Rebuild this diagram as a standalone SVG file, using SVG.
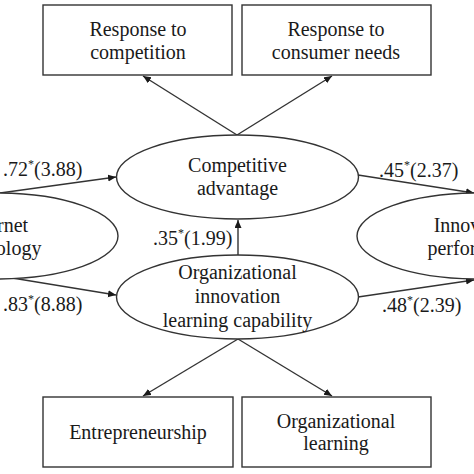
<svg xmlns="http://www.w3.org/2000/svg" width="474" height="474" viewBox="0 0 474 474">
<style>
.box{fill:#fff;stroke:#333;stroke-width:1.4}
.ell{fill:#fff;stroke:#333;stroke-width:1.4}
.t{font-family:"Liberation Serif","Times New Roman",serif;font-size:20px;fill:#1a1a1a;text-anchor:middle}
.l{font-family:"Liberation Serif","Times New Roman",serif;font-size:20px;fill:#1a1a1a}
.sup{font-size:12px}
.c{stroke:#333;stroke-width:1.4;fill:none;marker-end:url(#ah)}
</style>
<defs>
<marker id="ah" markerUnits="userSpaceOnUse" markerWidth="10" markerHeight="8" refX="8" refY="3.5" orient="auto">
<path d="M0,0 L8,3.5 L0,7 z" fill="#1a1a1a"/>
</marker>
</defs>
<rect width="474" height="474" fill="#fff"/>
<g id="connectors">
<line class="c" x1="237" y1="135" x2="143" y2="76"/>
<line class="c" x1="237" y1="135" x2="332" y2="76"/>
<line class="c" x1="238" y1="255" x2="238" y2="220"/>
<line class="c" x1="238" y1="339" x2="143" y2="396"/>
<line class="c" x1="238" y1="339" x2="332" y2="396"/>
<line class="c" x1="0" y1="193" x2="116" y2="177"/>
<line class="c" x1="0" y1="276" x2="116" y2="295"/>
<line class="c" x1="358" y1="175" x2="474" y2="193"/>
<line class="c" x1="358" y1="297" x2="474" y2="280"/>
</g>
<g id="n-resp-comp">
<rect class="box" x="43" y="5" width="189" height="70"/>
<text class="t" x="138" y="36">Response to</text>
<text class="t" x="138" y="59">competition</text>
</g>
<g id="n-resp-cons">
<rect class="box" x="242" y="5" width="189" height="70"/>
<text class="t" x="336" y="36">Response to</text>
<text class="t" x="336" y="59">consumer needs</text>
</g>
<g id="n-comp-adv">
<ellipse class="ell" cx="237.5" cy="177" rx="121" ry="42"/>
<text class="t" x="237.5" y="172">Competitive</text>
<text class="t" x="237.5" y="195">advantage</text>
</g>
<g id="n-org-innov">
<ellipse class="ell" cx="237.5" cy="297" rx="121" ry="42"/>
<text class="t" x="237.5" y="279">Organizational</text>
<text class="t" x="237.5" y="303">innovation</text>
<text class="t" x="237.5" y="327">learning capability</text>
</g>
<g id="n-internet">
<ellipse class="ell" cx="-3" cy="236" rx="121" ry="43"/>
<text class="t" x="-3" y="232">Internet</text>
<text class="t" x="-3" y="255">technology</text>
</g>
<g id="n-innov-perf">
<ellipse class="ell" cx="478" cy="236" rx="121" ry="43"/>
<text class="t" x="477" y="232">Innovation</text>
<text class="t" x="478" y="255">performance</text>
</g>
<g id="n-entre">
<rect class="box" x="43" y="397" width="190" height="70"/>
<text class="t" x="138" y="439">Entrepreneurship</text>
</g>
<g id="n-org-learn">
<rect class="box" x="242" y="397" width="189" height="70"/>
<text class="t" x="336" y="428">Organizational</text>
<text class="t" x="336" y="450">learning</text>
</g>
<g id="labels">
<text class="l" x="3" y="176">.72<tspan class="sup" dy="-8">*</tspan><tspan dy="8">(3.88)</tspan></text>
<text class="l" x="3" y="311">.83<tspan class="sup" dy="-8">*</tspan><tspan dy="8">(8.88)</tspan></text>
<text class="l" x="153" y="245">.35<tspan class="sup" dy="-8">*</tspan><tspan dy="8">(1.99)</tspan></text>
<text class="l" x="379" y="177">.45<tspan class="sup" dy="-8">*</tspan><tspan dy="8">(2.37)</tspan></text>
<text class="l" x="382" y="312">.48<tspan class="sup" dy="-8">*</tspan><tspan dy="8">(2.39)</tspan></text>
</g>
</svg>
